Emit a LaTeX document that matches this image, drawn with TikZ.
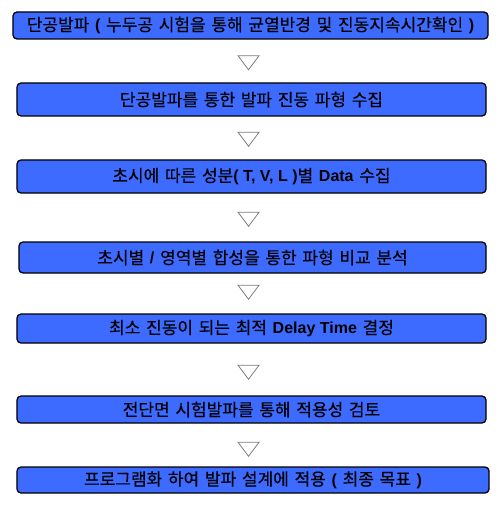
\documentclass[tikz,border=0pt]{standalone}
\usepackage{fontspec}
\setmainfont{Noto Sans CJK KR}[WordSpace=1.5,FakeBold=0.3]
\newfontfamily\latfont{Liberation Sans}
\usepackage{tikz}
\usetikzlibrary{shapes.geometric}
\definecolor{boxblue}{RGB}{61,107,255}
\definecolor{trigray}{RGB}{125,125,125}
\newcommand{\lat}[1]{{\latfont\bfseries\fontsize{16bp}{18bp}\selectfont #1}}

\begin{document}
\begin{tikzpicture}[x=1bp,y=-1bp]
    \tikzset{vertex/.style = {shape=rectangle,rounded corners=4bp,draw,line width=1.3bp,fill=boxblue,
        inner sep=0pt,minimum width=469bp,align=center,font=\fontsize{17bp}{19bp}\selectfont}}
    \tikzset{down/.style = {shape=isosceles triangle,isosceles triangle stretches,shape border rotate=270,
        draw=trigray,line width=0.8bp,fill=white,inner sep=0pt,minimum width=21bp,minimum height=14bp}}
    \useasboundingbox (0,0) rectangle (500,507);
    % vertices
    \node[vertex,minimum width=475bp,minimum height=27bp] (1) at (250.5,25.5)
        {단공발파 \lat{(} 누두공 시험을 통해 균열반경 및 진동지속시간확인 \lat{)}};
    \node[vertex,minimum height=33bp] (2) at (251.5,99.5) {단공발파를 통한 발파 진동 파형 수집};
    \node[vertex,minimum height=33bp] (3) at (251.5,176.5) {초시에 따른 성분\lat{( T, V, L )}별 \lat{Data} 수집};
    \node[vertex,minimum width=467bp,minimum height=31bp] (4) at (252.5,257.5) {초시별 \lat{/} 영역별 합성을 통한 파형 비교 분석};
    \node[vertex,minimum height=29bp] (5) at (251.5,328.5) {최소 진동이 되는 최적 \lat{Delay Time} 결정};
    \node[vertex,minimum height=27bp] (6) at (251.5,409.5) {전단면 시험발파를 통해 적용성 검토};
    \node[vertex,minimum width=472bp,minimum height=26bp] (7) at (253,480) {프로그램화 하여 발파 설계에 적용 \lat{(} 최종 목표 \lat{)}};
    % triangles
    \node[down] (t1) at (248.5,61) {};
    \node[down] (t2) at (248.5,137.5) {};
    \node[down] (t3) at (248.5,217.5) {};
    \node[down] (t4) at (248.5,290.5) {};
    \node[down] (t5) at (248.5,370.5) {};
    \node[down] (t6) at (248.5,447.5) {};
\end{tikzpicture}
\end{document}
